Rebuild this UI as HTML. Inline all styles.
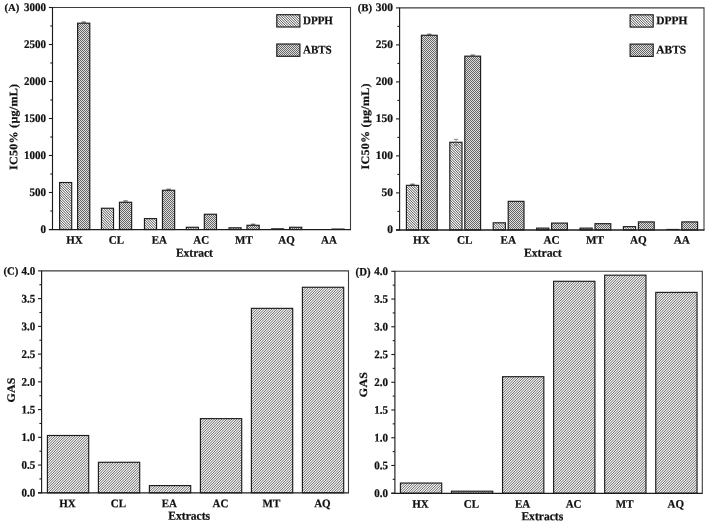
<!DOCTYPE html>
<html lang="en">
<head>
<meta charset="utf-8">
<title>Antioxidant activity charts</title>
<style>
html,body{margin:0;padding:0;background:#fff;}
body{width:708px;height:524px;overflow:hidden;}
svg{display:block;}
svg text{font-family:"Liberation Serif",serif;font-weight:bold;fill:#111;stroke:#111;stroke-width:0.22px;}
</style>
</head>
<body>
<svg width="708" height="524" viewBox="0 0 708 524">
<defs>
<pattern id="hD" patternUnits="userSpaceOnUse" x="0" y="0" width="5" height="5"><rect x="0" y="0" width="1" height="1" fill="#686868"/><rect x="1" y="0" width="1" height="1" fill="#f2f2f2"/><rect x="2" y="0" width="1" height="1" fill="#a4a4a4"/><rect x="3" y="0" width="1" height="1" fill="#a4a4a4"/><rect x="4" y="0" width="1" height="1" fill="#f2f2f2"/><rect x="0" y="1" width="1" height="1" fill="#f2f2f2"/><rect x="1" y="1" width="1" height="1" fill="#686868"/><rect x="2" y="1" width="1" height="1" fill="#f2f2f2"/><rect x="3" y="1" width="1" height="1" fill="#a4a4a4"/><rect x="4" y="1" width="1" height="1" fill="#a4a4a4"/><rect x="0" y="2" width="1" height="1" fill="#a4a4a4"/><rect x="1" y="2" width="1" height="1" fill="#f2f2f2"/><rect x="2" y="2" width="1" height="1" fill="#686868"/><rect x="3" y="2" width="1" height="1" fill="#f2f2f2"/><rect x="4" y="2" width="1" height="1" fill="#a4a4a4"/><rect x="0" y="3" width="1" height="1" fill="#a4a4a4"/><rect x="1" y="3" width="1" height="1" fill="#a4a4a4"/><rect x="2" y="3" width="1" height="1" fill="#f2f2f2"/><rect x="3" y="3" width="1" height="1" fill="#686868"/><rect x="4" y="3" width="1" height="1" fill="#f2f2f2"/><rect x="0" y="4" width="1" height="1" fill="#f2f2f2"/><rect x="1" y="4" width="1" height="1" fill="#a4a4a4"/><rect x="2" y="4" width="1" height="1" fill="#a4a4a4"/><rect x="3" y="4" width="1" height="1" fill="#f2f2f2"/><rect x="4" y="4" width="1" height="1" fill="#686868"/></pattern>
<pattern id="hG" patternUnits="userSpaceOnUse" x="0" y="0" width="5" height="5"><rect x="0" y="0" width="1" height="1" fill="#747474"/><rect x="1" y="0" width="1" height="1" fill="#f0f0f0"/><rect x="2" y="0" width="1" height="1" fill="#b0b0b0"/><rect x="3" y="0" width="1" height="1" fill="#b0b0b0"/><rect x="4" y="0" width="1" height="1" fill="#f0f0f0"/><rect x="0" y="1" width="1" height="1" fill="#f0f0f0"/><rect x="1" y="1" width="1" height="1" fill="#b0b0b0"/><rect x="2" y="1" width="1" height="1" fill="#b0b0b0"/><rect x="3" y="1" width="1" height="1" fill="#f0f0f0"/><rect x="4" y="1" width="1" height="1" fill="#747474"/><rect x="0" y="2" width="1" height="1" fill="#b0b0b0"/><rect x="1" y="2" width="1" height="1" fill="#b0b0b0"/><rect x="2" y="2" width="1" height="1" fill="#f0f0f0"/><rect x="3" y="2" width="1" height="1" fill="#747474"/><rect x="4" y="2" width="1" height="1" fill="#f0f0f0"/><rect x="0" y="3" width="1" height="1" fill="#b0b0b0"/><rect x="1" y="3" width="1" height="1" fill="#f0f0f0"/><rect x="2" y="3" width="1" height="1" fill="#747474"/><rect x="3" y="3" width="1" height="1" fill="#f0f0f0"/><rect x="4" y="3" width="1" height="1" fill="#b0b0b0"/><rect x="0" y="4" width="1" height="1" fill="#f0f0f0"/><rect x="1" y="4" width="1" height="1" fill="#747474"/><rect x="2" y="4" width="1" height="1" fill="#f0f0f0"/><rect x="3" y="4" width="1" height="1" fill="#b0b0b0"/><rect x="4" y="4" width="1" height="1" fill="#b0b0b0"/></pattern>
<pattern id="hA" patternUnits="userSpaceOnUse" x="0" y="0" width="2" height="2"><rect x="0" y="0" width="1" height="1" fill="#666666"/><rect x="1" y="0" width="1" height="1" fill="#dedede"/><rect x="0" y="1" width="1" height="1" fill="#dedede"/><rect x="1" y="1" width="1" height="1" fill="#666666"/></pattern>
</defs>
<rect width="708" height="524" fill="#fff"/>
<path d="M48.9 229.50 H52.5" stroke="#1c1c1c" stroke-width="1.1"/>
<text transform="translate(45.9 232.95) scale(1 1.06) rotate(0.03)" text-anchor="end" font-size="11.0">0</text>
<path d="M50.3 211.00 H52.5" stroke="#1c1c1c" stroke-width="1.1"/>
<path d="M48.9 192.50 H52.5" stroke="#1c1c1c" stroke-width="1.1"/>
<text transform="translate(45.9 195.95) scale(1 1.06) rotate(0.03)" text-anchor="end" font-size="11.0">500</text>
<path d="M50.3 174.00 H52.5" stroke="#1c1c1c" stroke-width="1.1"/>
<path d="M48.9 155.50 H52.5" stroke="#1c1c1c" stroke-width="1.1"/>
<text transform="translate(45.9 158.95) scale(1 1.06) rotate(0.03)" text-anchor="end" font-size="11.0">1000</text>
<path d="M50.3 137.00 H52.5" stroke="#1c1c1c" stroke-width="1.1"/>
<path d="M48.9 118.50 H52.5" stroke="#1c1c1c" stroke-width="1.1"/>
<text transform="translate(45.9 121.95) scale(1 1.06) rotate(0.03)" text-anchor="end" font-size="11.0">1500</text>
<path d="M50.3 100.00 H52.5" stroke="#1c1c1c" stroke-width="1.1"/>
<path d="M48.9 81.50 H52.5" stroke="#1c1c1c" stroke-width="1.1"/>
<text transform="translate(45.9 84.95) scale(1 1.06) rotate(0.03)" text-anchor="end" font-size="11.0">2000</text>
<path d="M50.3 63.00 H52.5" stroke="#1c1c1c" stroke-width="1.1"/>
<path d="M48.9 44.50 H52.5" stroke="#1c1c1c" stroke-width="1.1"/>
<text transform="translate(45.9 47.95) scale(1 1.06) rotate(0.03)" text-anchor="end" font-size="11.0">2500</text>
<path d="M50.3 26.00 H52.5" stroke="#1c1c1c" stroke-width="1.1"/>
<path d="M48.9 7.50 H52.5" stroke="#1c1c1c" stroke-width="1.1"/>
<text transform="translate(45.9 10.95) scale(1 1.06) rotate(0.03)" text-anchor="end" font-size="11.0">3000</text>
<text transform="translate(4.4 11.0) scale(1 0.98) rotate(0.03)" text-anchor="start" font-size="10.8">(A)</text>
<text transform="translate(17.2 126.8) scale(1 1.06) rotate(-89.97)" text-anchor="middle" font-size="11.4" letter-spacing="0.23">IC50% (µg/mL)</text>
<text transform="translate(194.4 256.8) scale(1 1.06) rotate(0.03)" text-anchor="middle" font-size="11.5">Extract</text>
<text transform="translate(74.5 243.8) scale(1 1.06) rotate(0.03)" text-anchor="middle" font-size="11.0">HX</text>
<rect x="59.60" y="182.51" width="12.10" height="46.99" fill="url(#hD)" stroke="#1c1c1c" stroke-width="1.15"/>
<rect x="77.60" y="23.19" width="12.20" height="206.31" fill="url(#hA)" stroke="#1c1c1c" stroke-width="1.15"/>
<text transform="translate(116.35 243.8) scale(1 1.06) rotate(0.03)" text-anchor="middle" font-size="11.0">CL</text>
<rect x="101.45" y="208.26" width="12.10" height="21.24" fill="url(#hD)" stroke="#1c1c1c" stroke-width="1.15"/>
<rect x="119.45" y="202.27" width="12.20" height="27.23" fill="url(#hA)" stroke="#1c1c1c" stroke-width="1.15"/>
<text transform="translate(159.35 243.8) scale(1 1.06) rotate(0.03)" text-anchor="middle" font-size="11.0">EA</text>
<rect x="144.45" y="218.62" width="12.10" height="10.88" fill="url(#hD)" stroke="#1c1c1c" stroke-width="1.15"/>
<rect x="162.45" y="190.28" width="12.20" height="39.22" fill="url(#hA)" stroke="#1c1c1c" stroke-width="1.15"/>
<text transform="translate(201.2 243.8) scale(1 1.06) rotate(0.03)" text-anchor="middle" font-size="11.0">AC</text>
<rect x="186.30" y="227.28" width="12.10" height="2.22" fill="url(#hD)" stroke="#1c1c1c" stroke-width="1.15"/>
<rect x="204.30" y="214.26" width="12.20" height="15.24" fill="url(#hA)" stroke="#1c1c1c" stroke-width="1.15"/>
<text transform="translate(243.9 243.8) scale(1 1.06) rotate(0.03)" text-anchor="middle" font-size="11.0">MT</text>
<rect x="229.00" y="227.80" width="12.10" height="1.70" fill="url(#hD)" stroke="#1c1c1c" stroke-width="1.15"/>
<rect x="247.00" y="225.28" width="12.20" height="4.22" fill="url(#hA)" stroke="#1c1c1c" stroke-width="1.15"/>
<text transform="translate(286.5 243.8) scale(1 1.06) rotate(0.03)" text-anchor="middle" font-size="11.0">AQ</text>
<rect x="271.10" y="228.24" width="13.10" height="1.26" fill="#1c1c1c"/>
<rect x="289.60" y="227.28" width="12.20" height="2.22" fill="url(#hA)" stroke="#1c1c1c" stroke-width="1.15"/>
<text transform="translate(328.9 243.8) scale(1 1.06) rotate(0.03)" text-anchor="middle" font-size="11.0">AA</text>
<rect x="331.50" y="228.50" width="13.20" height="1.00" fill="#1c1c1c"/>
<rect x="81.55" y="21.49" width="4.30" height="1.3" fill="#5a5a5a"/>
<rect x="123.40" y="200.37" width="4.30" height="1.3" fill="#5a5a5a"/>
<rect x="166.40" y="188.68" width="4.30" height="1.3" fill="#5a5a5a"/>
<rect x="250.95" y="223.68" width="4.30" height="1.3" fill="#5a5a5a"/>
<rect x="276.80" y="14.70" width="23.10" height="12.30" fill="url(#hD)" stroke="#1c1c1c" stroke-width="1.15"/>
<rect x="276.80" y="44.00" width="23.10" height="12.30" fill="url(#hA)" stroke="#1c1c1c" stroke-width="1.15"/>
<text transform="translate(303.0 24.2) scale(1 1.06) rotate(0.03)" text-anchor="start" font-size="11.0">DPPH</text>
<text transform="translate(303.0 53.5) scale(1 1.06) rotate(0.03)" text-anchor="start" font-size="11.0">ABTS</text>
<path d="M52.5 7.5 H350.5 V229.5" fill="none" stroke="#3c3c3c" stroke-width="1.1"/>
<path d="M52.5 7.0 V230.0" fill="none" stroke="#1c1c1c" stroke-width="1.15"/>
<path d="M48.9 229.6 H351.0" fill="none" stroke="#1c1c1c" stroke-width="1.3"/>
<path d="M396.0 229.90 H399.6" stroke="#1c1c1c" stroke-width="1.1"/>
<text transform="translate(393.0 233.0) scale(1.04 1.06) rotate(0.03)" text-anchor="end" font-size="11.0">0</text>
<path d="M397.40000000000003 211.40 H399.6" stroke="#1c1c1c" stroke-width="1.1"/>
<path d="M396.0 192.90 H399.6" stroke="#1c1c1c" stroke-width="1.1"/>
<text transform="translate(393.0 196.0) scale(1.04 1.06) rotate(0.03)" text-anchor="end" font-size="11.0">50</text>
<path d="M397.40000000000003 174.40 H399.6" stroke="#1c1c1c" stroke-width="1.1"/>
<path d="M396.0 155.90 H399.6" stroke="#1c1c1c" stroke-width="1.1"/>
<text transform="translate(393.0 159.0) scale(1.04 1.06) rotate(0.03)" text-anchor="end" font-size="11.0">100</text>
<path d="M397.40000000000003 137.40 H399.6" stroke="#1c1c1c" stroke-width="1.1"/>
<path d="M396.0 118.90 H399.6" stroke="#1c1c1c" stroke-width="1.1"/>
<text transform="translate(393.0 122.0) scale(1.04 1.06) rotate(0.03)" text-anchor="end" font-size="11.0">150</text>
<path d="M397.40000000000003 100.40 H399.6" stroke="#1c1c1c" stroke-width="1.1"/>
<path d="M396.0 81.90 H399.6" stroke="#1c1c1c" stroke-width="1.1"/>
<text transform="translate(393.0 85.0) scale(1.04 1.06) rotate(0.03)" text-anchor="end" font-size="11.0">200</text>
<path d="M397.40000000000003 63.40 H399.6" stroke="#1c1c1c" stroke-width="1.1"/>
<path d="M396.0 44.90 H399.6" stroke="#1c1c1c" stroke-width="1.1"/>
<text transform="translate(393.0 48.0) scale(1.04 1.06) rotate(0.03)" text-anchor="end" font-size="11.0">250</text>
<path d="M397.40000000000003 26.40 H399.6" stroke="#1c1c1c" stroke-width="1.1"/>
<path d="M396.0 7.90 H399.6" stroke="#1c1c1c" stroke-width="1.1"/>
<text transform="translate(393.0 11.0) scale(1.04 1.06) rotate(0.03)" text-anchor="end" font-size="11.0">300</text>
<text transform="translate(357.7 11.3) scale(1 1.0) rotate(0.03)" text-anchor="start" font-size="10.8">(B)</text>
<text transform="translate(368.9 126.3) scale(1 1.06) rotate(-89.97)" text-anchor="middle" font-size="11.4" letter-spacing="0.23">IC50% (µg/mL)</text>
<text transform="translate(542.8 256.8) scale(1.02 1.06) rotate(0.03)" text-anchor="middle" font-size="11.5">Extract</text>
<text transform="translate(421.4 243.85) scale(1.02 1.06) rotate(0.03)" text-anchor="middle" font-size="11.0">HX</text>
<rect x="406.40" y="185.35" width="12.20" height="44.55" fill="url(#hD)" stroke="#1c1c1c" stroke-width="1.15"/>
<rect x="421.40" y="35.28" width="15.80" height="194.62" fill="url(#hA)" stroke="#1c1c1c" stroke-width="1.15"/>
<text transform="translate(464.8 243.85) scale(1.02 1.06) rotate(0.03)" text-anchor="middle" font-size="11.0">CL</text>
<rect x="449.80" y="142.28" width="12.20" height="87.62" fill="url(#hD)" stroke="#1c1c1c" stroke-width="1.15"/>
<rect x="464.80" y="56.15" width="15.80" height="173.75" fill="url(#hA)" stroke="#1c1c1c" stroke-width="1.15"/>
<text transform="translate(508.2 243.85) scale(1.02 1.06) rotate(0.03)" text-anchor="middle" font-size="11.0">EA</text>
<rect x="493.20" y="222.80" width="12.20" height="7.10" fill="url(#hD)" stroke="#1c1c1c" stroke-width="1.15"/>
<rect x="508.20" y="201.34" width="15.80" height="28.56" fill="url(#hA)" stroke="#1c1c1c" stroke-width="1.15"/>
<text transform="translate(551.6 243.85) scale(1.02 1.06) rotate(0.03)" text-anchor="middle" font-size="11.0">AC</text>
<rect x="536.60" y="228.12" width="12.20" height="1.78" fill="url(#hD)" stroke="#1c1c1c" stroke-width="1.15"/>
<rect x="551.60" y="223.09" width="15.80" height="6.81" fill="url(#hA)" stroke="#1c1c1c" stroke-width="1.15"/>
<text transform="translate(595.0 243.85) scale(1.02 1.06) rotate(0.03)" text-anchor="middle" font-size="11.0">MT</text>
<rect x="580.00" y="228.12" width="12.20" height="1.78" fill="url(#hD)" stroke="#1c1c1c" stroke-width="1.15"/>
<rect x="595.00" y="223.68" width="15.80" height="6.22" fill="url(#hA)" stroke="#1c1c1c" stroke-width="1.15"/>
<text transform="translate(638.4 243.85) scale(1.02 1.06) rotate(0.03)" text-anchor="middle" font-size="11.0">AQ</text>
<rect x="623.40" y="226.64" width="12.20" height="3.26" fill="url(#hD)" stroke="#1c1c1c" stroke-width="1.15"/>
<rect x="638.40" y="221.91" width="15.80" height="7.99" fill="url(#hA)" stroke="#1c1c1c" stroke-width="1.15"/>
<text transform="translate(681.8 243.85) scale(1.02 1.06) rotate(0.03)" text-anchor="middle" font-size="11.0">AA</text>
<rect x="666.30" y="228.90" width="13.20" height="1.00" fill="#1c1c1c"/>
<rect x="681.80" y="221.91" width="15.80" height="7.99" fill="url(#hA)" stroke="#1c1c1c" stroke-width="1.15"/>
<rect x="410.35" y="183.65" width="4.30" height="1.3" fill="#5a5a5a"/>
<rect x="427.15" y="33.68" width="4.30" height="1.3" fill="#5a5a5a"/>
<path d="M455.99999999999994 139.38 V145.18 M453.84999999999997 139.38 H458.1499999999999 M453.84999999999997 145.18 H458.1499999999999" stroke="#777" stroke-width="0.8" fill="none"/>
<rect x="470.55" y="54.55" width="4.30" height="1.3" fill="#5a5a5a"/>
<rect x="630.10" y="14.80" width="23.10" height="12.30" fill="url(#hD)" stroke="#1c1c1c" stroke-width="1.15"/>
<rect x="630.10" y="44.10" width="23.10" height="12.30" fill="url(#hA)" stroke="#1c1c1c" stroke-width="1.15"/>
<text transform="translate(656.3000000000001 24.3) scale(1.04 1.06) rotate(0.03)" text-anchor="start" font-size="11.0">DPPH</text>
<text transform="translate(656.3000000000001 53.6) scale(1.04 1.06) rotate(0.03)" text-anchor="start" font-size="11.0">ABTS</text>
<path d="M399.6 7.9 H704.0 V229.9" fill="none" stroke="#3c3c3c" stroke-width="1.1"/>
<path d="M399.6 7.4 V230.4" fill="none" stroke="#1c1c1c" stroke-width="1.15"/>
<path d="M396.0 230.0 H704.5" fill="none" stroke="#1c1c1c" stroke-width="1.3"/>
<path d="M38.0 492.80 H41.6" stroke="#1c1c1c" stroke-width="1.1"/>
<text transform="translate(35.3 496.6) scale(1 1.06) rotate(0.03)" text-anchor="end" font-size="11.0">0.0</text>
<path d="M39.4 478.93 H41.6" stroke="#1c1c1c" stroke-width="1.1"/>
<path d="M38.0 465.06 H41.6" stroke="#1c1c1c" stroke-width="1.1"/>
<text transform="translate(35.3 468.86) scale(1 1.06) rotate(0.03)" text-anchor="end" font-size="11.0">0.5</text>
<path d="M39.4 451.19 H41.6" stroke="#1c1c1c" stroke-width="1.1"/>
<path d="M38.0 437.32 H41.6" stroke="#1c1c1c" stroke-width="1.1"/>
<text transform="translate(35.3 441.12) scale(1 1.06) rotate(0.03)" text-anchor="end" font-size="11.0">1.0</text>
<path d="M39.4 423.46 H41.6" stroke="#1c1c1c" stroke-width="1.1"/>
<path d="M38.0 409.59 H41.6" stroke="#1c1c1c" stroke-width="1.1"/>
<text transform="translate(35.3 413.39) scale(1 1.06) rotate(0.03)" text-anchor="end" font-size="11.0">1.5</text>
<path d="M39.4 395.72 H41.6" stroke="#1c1c1c" stroke-width="1.1"/>
<path d="M38.0 381.85 H41.6" stroke="#1c1c1c" stroke-width="1.1"/>
<text transform="translate(35.3 385.65) scale(1 1.06) rotate(0.03)" text-anchor="end" font-size="11.0">2.0</text>
<path d="M39.4 367.98 H41.6" stroke="#1c1c1c" stroke-width="1.1"/>
<path d="M38.0 354.11 H41.6" stroke="#1c1c1c" stroke-width="1.1"/>
<text transform="translate(35.3 357.91) scale(1 1.06) rotate(0.03)" text-anchor="end" font-size="11.0">2.5</text>
<path d="M39.4 340.24 H41.6" stroke="#1c1c1c" stroke-width="1.1"/>
<path d="M38.0 326.38 H41.6" stroke="#1c1c1c" stroke-width="1.1"/>
<text transform="translate(35.3 330.18) scale(1 1.06) rotate(0.03)" text-anchor="end" font-size="11.0">3.0</text>
<path d="M39.4 312.51 H41.6" stroke="#1c1c1c" stroke-width="1.1"/>
<path d="M38.0 298.64 H41.6" stroke="#1c1c1c" stroke-width="1.1"/>
<text transform="translate(35.3 302.44) scale(1 1.06) rotate(0.03)" text-anchor="end" font-size="11.0">3.5</text>
<path d="M39.4 284.77 H41.6" stroke="#1c1c1c" stroke-width="1.1"/>
<path d="M38.0 270.90 H41.6" stroke="#1c1c1c" stroke-width="1.1"/>
<text transform="translate(35.3 274.7) scale(1 1.06) rotate(0.03)" text-anchor="end" font-size="11.0">4.0</text>
<text transform="translate(3.4 274.4) scale(1 1.0) rotate(0.03)" text-anchor="start" font-size="10.8">(C)</text>
<text transform="translate(14.7 389.9) scale(1 1.06) rotate(-89.97)" text-anchor="middle" font-size="11.2" letter-spacing="0.2">GAS</text>
<text transform="translate(189.2 519.7) scale(1 1.06) rotate(0.03)" text-anchor="middle" font-size="11.6">Extracts</text>
<text transform="translate(67.4 507.3) scale(1 1.06) rotate(0.03)" text-anchor="middle" font-size="11.0">HX</text>
<rect x="47.40" y="435.49" width="41.30" height="57.31" fill="url(#hG)" stroke="#1c1c1c" stroke-width="1.15"/>
<text transform="translate(118.4 507.3) scale(1 1.06) rotate(0.03)" text-anchor="middle" font-size="11.0">CL</text>
<rect x="98.40" y="462.29" width="41.30" height="30.51" fill="url(#hG)" stroke="#1c1c1c" stroke-width="1.15"/>
<text transform="translate(169.4 507.3) scale(1 1.06) rotate(0.03)" text-anchor="middle" font-size="11.0">EA</text>
<rect x="149.40" y="485.59" width="41.30" height="7.21" fill="url(#hG)" stroke="#1c1c1c" stroke-width="1.15"/>
<text transform="translate(220.4 507.3) scale(1 1.06) rotate(0.03)" text-anchor="middle" font-size="11.0">AC</text>
<rect x="200.40" y="418.63" width="41.30" height="74.17" fill="url(#hG)" stroke="#1c1c1c" stroke-width="1.15"/>
<text transform="translate(271.4 507.3) scale(1 1.06) rotate(0.03)" text-anchor="middle" font-size="11.0">MT</text>
<rect x="251.40" y="308.35" width="41.30" height="184.45" fill="url(#hG)" stroke="#1c1c1c" stroke-width="1.15"/>
<text transform="translate(322.4 507.3) scale(1 1.06) rotate(0.03)" text-anchor="middle" font-size="11.0">AQ</text>
<rect x="302.40" y="287.27" width="41.30" height="205.53" fill="url(#hG)" stroke="#1c1c1c" stroke-width="1.15"/>
<path d="M41.6 270.9 H348.5 V492.8" fill="none" stroke="#3c3c3c" stroke-width="1.1"/>
<path d="M41.6 270.4 V493.3" fill="none" stroke="#1c1c1c" stroke-width="1.15"/>
<path d="M38.0 492.90000000000003 H349.0" fill="none" stroke="#1c1c1c" stroke-width="1.3"/>
<path d="M391.29999999999995 493.20 H394.9" stroke="#1c1c1c" stroke-width="1.1"/>
<text transform="translate(388.1 496.9) scale(1 1.06) rotate(0.03)" text-anchor="end" font-size="11.0">0.0</text>
<path d="M392.7 479.33 H394.9" stroke="#1c1c1c" stroke-width="1.1"/>
<path d="M391.29999999999995 465.46 H394.9" stroke="#1c1c1c" stroke-width="1.1"/>
<text transform="translate(388.1 469.16) scale(1 1.06) rotate(0.03)" text-anchor="end" font-size="11.0">0.5</text>
<path d="M392.7 451.59 H394.9" stroke="#1c1c1c" stroke-width="1.1"/>
<path d="M391.29999999999995 437.73 H394.9" stroke="#1c1c1c" stroke-width="1.1"/>
<text transform="translate(388.1 441.43) scale(1 1.06) rotate(0.03)" text-anchor="end" font-size="11.0">1.0</text>
<path d="M392.7 423.86 H394.9" stroke="#1c1c1c" stroke-width="1.1"/>
<path d="M391.29999999999995 409.99 H394.9" stroke="#1c1c1c" stroke-width="1.1"/>
<text transform="translate(388.1 413.69) scale(1 1.06) rotate(0.03)" text-anchor="end" font-size="11.0">1.5</text>
<path d="M392.7 396.12 H394.9" stroke="#1c1c1c" stroke-width="1.1"/>
<path d="M391.29999999999995 382.25 H394.9" stroke="#1c1c1c" stroke-width="1.1"/>
<text transform="translate(388.1 385.95) scale(1 1.06) rotate(0.03)" text-anchor="end" font-size="11.0">2.0</text>
<path d="M392.7 368.38 H394.9" stroke="#1c1c1c" stroke-width="1.1"/>
<path d="M391.29999999999995 354.51 H394.9" stroke="#1c1c1c" stroke-width="1.1"/>
<text transform="translate(388.1 358.21) scale(1 1.06) rotate(0.03)" text-anchor="end" font-size="11.0">2.5</text>
<path d="M392.7 340.64 H394.9" stroke="#1c1c1c" stroke-width="1.1"/>
<path d="M391.29999999999995 326.77 H394.9" stroke="#1c1c1c" stroke-width="1.1"/>
<text transform="translate(388.1 330.47) scale(1 1.06) rotate(0.03)" text-anchor="end" font-size="11.0">3.0</text>
<path d="M392.7 312.91 H394.9" stroke="#1c1c1c" stroke-width="1.1"/>
<path d="M391.29999999999995 299.04 H394.9" stroke="#1c1c1c" stroke-width="1.1"/>
<text transform="translate(388.1 302.74) scale(1 1.06) rotate(0.03)" text-anchor="end" font-size="11.0">3.5</text>
<path d="M392.7 285.17 H394.9" stroke="#1c1c1c" stroke-width="1.1"/>
<path d="M391.29999999999995 271.30 H394.9" stroke="#1c1c1c" stroke-width="1.1"/>
<text transform="translate(388.1 275.0) scale(1 1.06) rotate(0.03)" text-anchor="end" font-size="11.0">4.0</text>
<text transform="translate(355.6 275.4) scale(1 1.06) rotate(0.03)" text-anchor="start" font-size="10.8">(D)</text>
<text transform="translate(367.1 384.5) scale(1 1.06) rotate(-89.97)" text-anchor="middle" font-size="11.2" letter-spacing="0.3">GAS</text>
<text transform="translate(542.3 520.3) scale(1 1.06) rotate(0.03)" text-anchor="middle" font-size="11.6">Extracts</text>
<text transform="translate(420.4 507.65) scale(1 1.06) rotate(0.03)" text-anchor="middle" font-size="11.0">HX</text>
<rect x="400.40" y="483.05" width="41.30" height="10.15" fill="url(#hG)" stroke="#1c1c1c" stroke-width="1.15"/>
<text transform="translate(471.47 507.65) scale(1 1.06) rotate(0.03)" text-anchor="middle" font-size="11.0">CL</text>
<rect x="451.47" y="491.20" width="41.30" height="2.00" fill="url(#hG)" stroke="#1c1c1c" stroke-width="1.15"/>
<text transform="translate(522.54 507.65) scale(1 1.06) rotate(0.03)" text-anchor="middle" font-size="11.0">EA</text>
<rect x="502.54" y="376.70" width="41.30" height="116.50" fill="url(#hG)" stroke="#1c1c1c" stroke-width="1.15"/>
<text transform="translate(573.61 507.65) scale(1 1.06) rotate(0.03)" text-anchor="middle" font-size="11.0">AC</text>
<rect x="553.61" y="281.29" width="41.30" height="211.91" fill="url(#hG)" stroke="#1c1c1c" stroke-width="1.15"/>
<text transform="translate(624.68 507.65) scale(1 1.06) rotate(0.03)" text-anchor="middle" font-size="11.0">MT</text>
<rect x="604.68" y="275.18" width="41.30" height="218.02" fill="url(#hG)" stroke="#1c1c1c" stroke-width="1.15"/>
<text transform="translate(675.75 507.65) scale(1 1.06) rotate(0.03)" text-anchor="middle" font-size="11.0">AQ</text>
<rect x="655.75" y="292.38" width="41.30" height="200.82" fill="url(#hG)" stroke="#1c1c1c" stroke-width="1.15"/>
<path d="M394.9 271.3 H702.3 V493.2" fill="none" stroke="#3c3c3c" stroke-width="1.1"/>
<path d="M394.9 270.8 V493.7" fill="none" stroke="#1c1c1c" stroke-width="1.15"/>
<path d="M391.29999999999995 493.3 H702.8" fill="none" stroke="#1c1c1c" stroke-width="1.3"/>
</svg>
</body>
</html>
